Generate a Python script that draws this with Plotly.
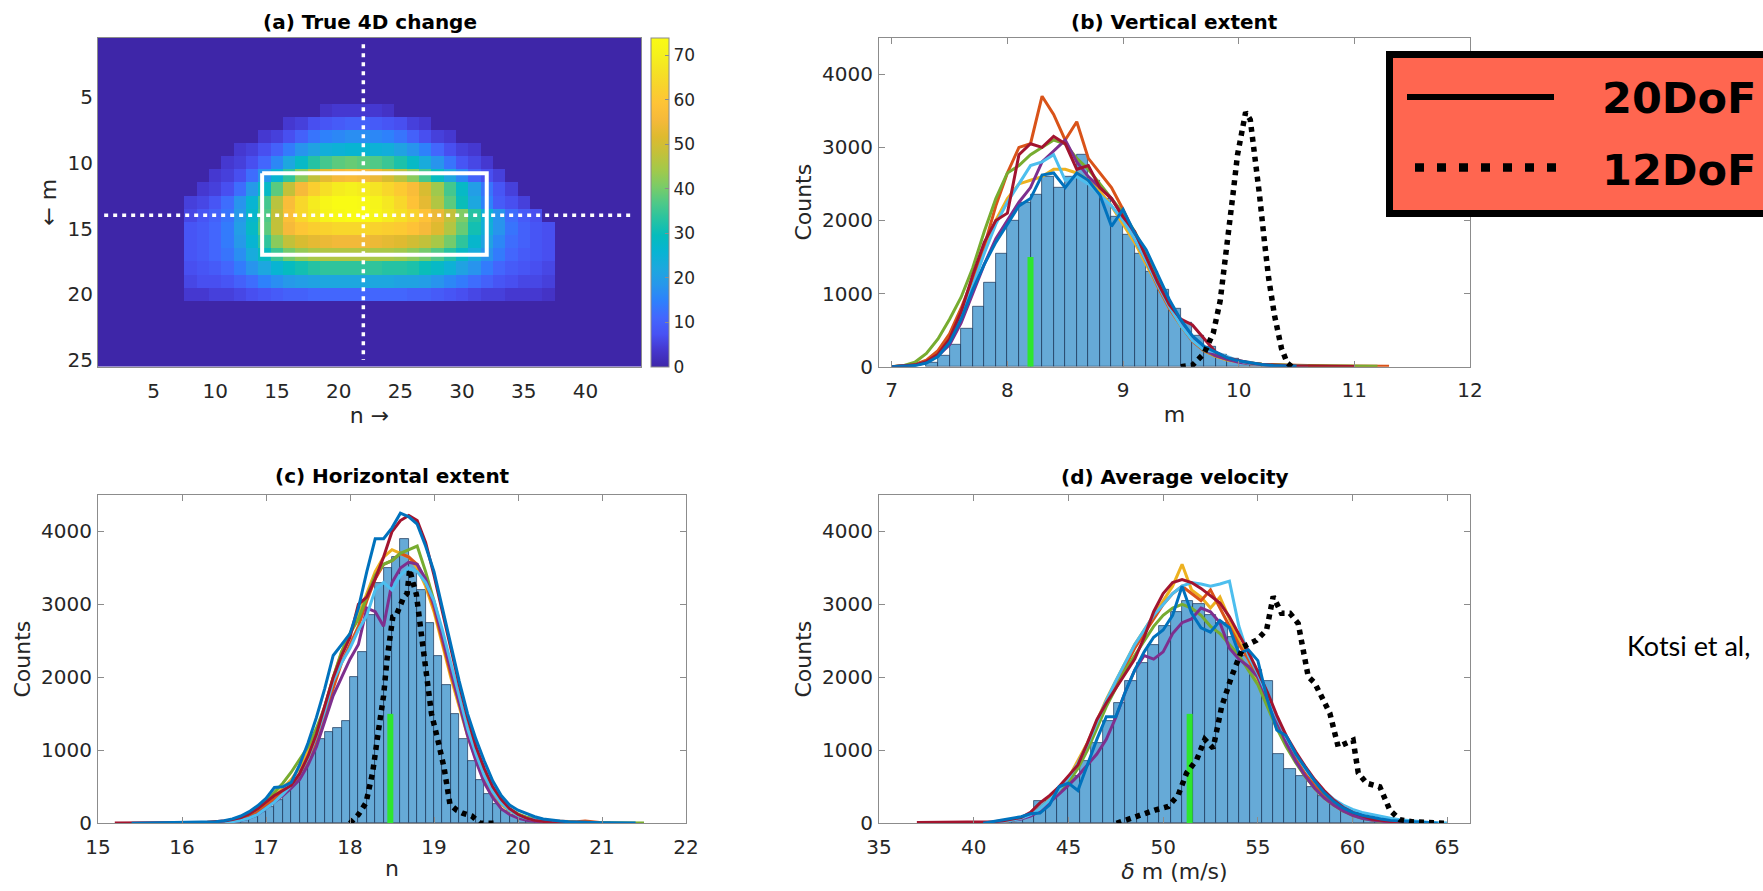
import plotly.graph_objects as go

# ------------------------------------------------------------------
# (a) True 4D change : cell values for rows m = 6..20, columns n = 8..37
# (all other cells of the 25 x 44 grid are zero)
# ------------------------------------------------------------------
m_rows = list(range(1, 26))
n_cols = list(range(1, 45))
first_col, last_col = 8, 37

r06 = [0,0,0,0,0,0,0,0,0,0,0,3,4,4,4,4,3,0,0,0,0,0,0,0,0,0,0,0,0,0]
r07 = [0,0,0,0,0,0,0,0,4,5,7,8,9,10,10,9,8,7,5,4,0,0,0,0,0,0,0,0,0,0]
r08 = [0,0,0,0,0,0,4,5,7,10,13,15,16,17,17,16,15,13,10,7,5,4,0,0,0,0,0,0,0,0]
r09 = [0,0,0,0,4,5,7,10,14,18,21,24,25,26,26,25,24,21,18,15,11,7,5,4,0,0,0,0,0,0]
r10 = [0,0,0,4,5,7,11,16,22,28,33,36,38,39,38,37,35,32,28,23,18,13,8,6,4,0,0,0,0,0]
r11 = [0,0,4,5,7,12,18,26,34,42,48,53,56,57,56,54,51,47,42,36,29,22,16,10,7,5,0,0,0,0]
r12 = [0,4,5,7,12,19,28,38,48,56,62,66,69,70,69,67,64,61,57,51,44,36,28,20,13,8,5,0,0,0]
r13 = [5,6,8,12,18,26,36,47,57,64,69,72,74,74,73,71,68,64,59,53,46,38,30,22,15,9,7,5,0,0]
r14 = [6,8,10,13,19,27,37,48,58,64,68,71,73,74,74,72,69,66,63,59,54,48,41,33,25,18,12,9,7,0]
r15 = [8,9,11,14,20,28,38,48,56,60,62,63,64,64,64,63,62,61,59,56,52,46,39,31,24,18,13,10,8,7]
r16 = [8,9,11,14,19,26,34,42,48,51,53,54,55,55,55,54,53,52,50,48,45,40,34,27,21,16,12,10,8,7]
r17 = [8,9,11,13,17,23,29,35,40,43,45,46,46,46,46,45,45,44,42,40,37,33,28,23,18,14,11,9,8,7]
r18 = [7,8,9,11,14,18,22,26,29,31,33,34,34,34,34,34,33,33,32,30,28,25,21,18,14,11,9,8,7,6]
r19 = [6,7,7,8,10,12,15,17,19,20,21,22,22,22,22,22,22,21,21,20,18,16,14,12,10,8,7,6,6,5]
r20 = [4,4,5,5,6,7,8,9,10,10,11,11,11,11,11,11,11,11,10,10,9,8,7,6,5,5,4,4,4,3]
active_rows = {6: r06, 7: r07, 8: r08, 9: r09, 10: r10, 11: r11, 12: r12, 13: r13,
               14: r14, 15: r15, 16: r16, 17: r17, 18: r18, 19: r19, 20: r20}

# region of interest and the two cross sections
roi_n = [13.8, 32.0]
roi_m = [10.8, 17.0]
cross_n = 22
cross_m = 14

# ------------------------------------------------------------------
# (b) Vertical extent
# ------------------------------------------------------------------
b_bins = [7.35,7.45,7.55,7.65,7.75,7.85,7.95,8.05,8.15,8.25,8.35,8.45,8.55,8.65,8.75,
          8.85,8.95,9.05,9.15,9.25,9.35,9.45,9.55,9.65,9.75,9.85,9.95,10.05,10.15,10.25]
b_counts = [60,150,300,520,820,1150,1550,2000,2250,2350,2600,2450,2600,2900,2550,
            2300,2050,1800,1550,1300,1050,800,600,420,280,170,110,70,40,20]
b_grid = [7.0,7.1,7.2,7.3,7.4,7.5,7.6,7.7,7.8,7.9,8.0,8.1,8.2,8.3,8.4,8.5,8.6,8.7,8.8,8.9,
          9.0,9.1,9.2,9.3,9.4,9.5,9.6,9.7,9.8,9.9,10.0,10.1,10.2,10.3,10.4,10.5,10.6,10.7,
          10.8,10.9,11.0,11.1,11.2,11.3]
N = None
b_orange = [0,10,30,90,220,450,800,1200,1650,2200,2650,3000,3050,3700,3450,3100,3350,2850,2650,2450,
            2150,1800,1450,1100,800,560,350,220,150,100,70,50,35,25,20,15,15,12,10,10,8,8,6,5]
b_yellow = [0,5,25,80,200,420,750,1150,1600,2000,2300,2500,2550,2600,2700,2700,2650,2550,2400,2200,
            1950,1700,1400,1100,800,560,360,220,140,90,60,40,25,15,10,8,N,N,N,N,N,N,N,N]
b_green = [0,15,60,180,380,650,950,1350,1850,2300,2650,2750,2900,3000,3100,3050,2850,2700,2500,2300,
           2100,1850,1550,1200,850,580,370,230,150,100,70,50,35,25,20,15,12,10,10,8,8,6,5,N]
b_purple = [0,5,20,60,150,300,600,1000,1400,1750,2000,2250,2450,2800,2950,3100,2800,2600,2450,2300,
            2050,1750,1450,1150,850,580,380,240,150,100,60,40,25,15,10,N,N,N,N,N,N,N,N,N]
b_lightblue = [0,5,20,60,160,350,680,1100,1550,1950,2250,2500,2750,2800,2900,2550,2600,2500,2350,2200,
               2000,1750,1450,1120,820,560,360,230,200,140,80,45,25,15,10,8,5,N,N,N,N,N,N,N]
b_darkred = [0,8,25,70,170,380,750,1250,1700,2000,2100,2900,3050,3000,3150,3050,2700,2750,2450,2300,
             2050,1850,1500,1150,850,650,570,380,200,120,80,50,30,20,12,10,8,8,6,5,4,N,N,N]
b_blue = [0,5,15,50,140,330,650,1050,1400,1700,1950,2200,2300,2620,2650,2450,2650,2550,2350,1920,
          2150,1830,1600,1250,920,640,420,280,200,120,80,50,30,15,8,5,N,N,N,N,N,N,N,N]
b_12dof_x = [9.50,9.60,9.70,9.78,9.84,9.88,9.92,9.95,9.99,10.03,10.06,10.10,10.14,10.18,10.22,
             10.26,10.31,10.37,10.42,10.46]
b_12dof_y = [0,20,180,460,900,1400,1850,2350,2900,3300,3480,3380,2900,2350,1750,1200,700,250,50,0]
b_true = 8.2

# ------------------------------------------------------------------
# (c) Horizontal extent
# ------------------------------------------------------------------
c_bins = [16.65,16.75,16.85,16.95,17.05,17.15,17.25,17.35,17.45,17.55,17.65,17.75,17.85,17.95,
          18.05,18.15,18.25,18.35,18.45,18.55,18.65,18.75,18.85,18.95,19.05,19.15,19.25,19.35,
          19.45,19.55,19.65,19.75,19.85,19.95,20.05,20.15,20.25]
c_counts = [30,50,90,150,220,320,450,600,780,1000,1150,1250,1300,1400,2000,2350,2850,3300,3500,3650,
            3900,3550,3200,2750,2300,1900,1500,1150,850,600,400,270,170,110,65,35,15]
c_grid = [15.2,15.3,15.4,15.5,15.6,15.7,15.8,15.9,16.0,16.1,16.2,16.3,16.4,16.5,16.6,16.7,16.8,16.9,
          17.0,17.1,17.2,17.3,17.4,17.5,17.6,17.7,17.8,17.9,18.0,18.1,18.2,18.3,18.4,18.5,18.6,18.7,
          18.8,18.9,19.0,19.1,19.2,19.3,19.4,19.5,19.6,19.7,19.8,19.9,20.0,20.1,20.2,20.3,20.4,20.5,
          20.6,20.7,20.8,20.9,21.0,21.1,21.2,21.3,21.4,21.5]
c_orange = [N,N,N,N,N,N,N,N,N,N,N,N,5,10,25,50,90,150,240,330,420,520,650,850,1100,1450,1850,2200,
            2450,2700,3050,3350,3550,3600,3700,3650,3550,3300,2950,2500,2050,1650,1250,900,620,420,
            280,180,120,80,55,40,30,25,20,20,30,15,8,5,N,N,N,N]
c_yellow = [N,N,N,N,N,N,N,N,N,N,N,5,10,20,40,70,120,190,280,380,480,600,760,980,1250,1600,2000,2350,
            2600,2850,3150,3450,3650,3750,3700,3650,3500,3250,2900,2450,2000,1600,1200,880,600,400,
            260,170,110,70,45,30,20,12,8,5,N,N,N,N,N,N,N,N]
c_green = [N,N,N,N,N,N,N,N,N,N,5,10,15,25,45,80,130,200,300,420,550,700,880,1050,1300,1600,2000,2350,
           2600,2800,3100,3400,3550,3600,3700,3750,3800,3450,3050,2600,2150,1700,1300,950,670,460,
           310,200,130,85,55,35,25,18,12,10,8,6,5,5,4,4,4,4]
c_purple = [N,N,N,N,N,N,N,N,N,N,N,N,5,10,20,40,70,120,200,290,380,480,600,800,1050,1400,1750,2000,
            2250,2450,2950,2900,2700,3300,3500,3580,3550,3350,3000,2550,2100,1650,1200,850,550,350,
            200,120,70,40,25,15,10,5,N,N,N,N,N,N,N,N,N,N]
c_lightblue = [N,N,N,N,N,N,N,N,N,N,N,N,5,10,20,40,70,120,200,290,400,520,680,900,1200,1550,1950,2200,
               2400,2650,2850,3200,3300,3200,3400,3500,3450,3300,3050,2650,2200,1750,1300,950,650,
               430,280,180,110,70,45,30,20,15,10,8,5,5,N,N,N,N,N,N]
c_darkred = [5,5,5,4,4,5,5,6,8,10,12,15,20,30,50,80,130,200,290,380,450,520,680,920,1220,1600,2000,
             2300,2550,3000,3100,3350,3650,4000,4150,4220,4150,3850,3400,2900,2400,1900,1450,1050,
             750,500,330,200,120,70,40,20,10,5,2,N,N,N,N,N,N,N,N,N]
c_blue = [N,N,0,2,4,5,6,8,10,10,12,15,22,35,60,100,160,240,340,490,500,560,800,1100,1450,1850,2300,
          2450,2600,2950,3450,3900,3900,4050,4250,4200,4100,3800,3450,2950,2450,1950,1500,1150,850,
          580,380,250,180,130,90,60,40,30,20,15,10,10,8,6,5,4,3,N]
c_12dof_x = [18.00,18.10,18.19,18.27,18.34,18.40,18.44,18.48,18.51,18.55,18.59,18.64,18.68,18.71,
             18.75,18.79,18.83,18.87,18.92,18.97,19.04,19.12,19.19,19.27,19.34,19.45,19.55,19.62,19.72]
c_12dof_y = [0,120,280,700,1280,1750,2240,2550,2830,2850,2970,3100,3150,3480,3300,3140,2770,2400,
             1860,1500,1170,760,260,180,140,100,0,0,0]
c_true = 18.48

# ------------------------------------------------------------------
# (d) Average velocity
# ------------------------------------------------------------------
d_bins = [41.7,42.3,42.9,43.5,44.1,44.7,45.3,45.9,46.5,47.1,47.7,48.3,48.9,49.5,50.1,50.7,51.3,51.9,
          52.5,53.1,53.7,54.3,54.9,55.5,56.1,56.7,57.3,57.9,58.5,59.1,59.7,60.3,60.9,61.5,62.1,62.7]
d_counts = [20,50,100,300,330,480,650,850,1100,1400,1650,1950,2200,2450,2700,2900,3050,3000,2850,2750,
            2550,2300,2100,1950,950,750,650,500,380,280,200,140,90,60,30,15]
d_grid = [37.0,37.5,38.0,38.5,39.0,39.5,40.0,40.5,41.0,41.5,42.0,42.5,43.0,43.5,44.0,44.5,45.0,45.5,
          46.0,46.5,47.0,47.5,48.0,48.5,49.0,49.5,50.0,50.5,51.0,51.5,52.0,52.5,53.0,53.5,54.0,54.5,
          55.0,55.5,56.0,56.5,57.0,57.5,58.0,58.5,59.0,59.5,60.0,60.5,61.0,61.5,62.0,62.5,63.0,63.5,
          64.0,64.5,65.0]
d_orange = [N,N,N,N,N,N,N,N,10,20,40,70,120,200,320,450,600,800,1050,1350,1650,1900,2150,2400,2600,
            2800,3000,3150,3250,3150,3050,3200,2950,2700,2450,2250,2000,1700,1380,1100,880,680,520,
            380,270,190,130,90,60,40,25,15,8,N,N,N,N]
d_yellow = [N,N,N,N,N,N,N,N,10,20,40,70,120,200,330,470,620,850,1100,1400,1700,1950,2200,2450,2650,
            2850,3050,3250,3550,3200,3100,2950,3100,2800,2500,2250,1950,1650,1350,1080,850,650,480,
            350,250,170,120,80,50,30,20,10,5,N,N,N,N]
d_green = [N,N,N,N,N,N,N,N,10,20,40,70,110,180,300,420,560,750,1000,1300,1600,1850,2100,2300,2500,
           2700,2850,2950,3000,2950,2850,2700,2600,2450,2300,2100,1900,1600,1300,1050,830,640,480,
           350,250,170,110,70,45,25,15,8,5,N,N,N,N]
d_purple = [N,N,N,N,N,N,N,N,10,20,40,60,100,170,280,400,520,650,800,950,1150,1450,1800,2100,2300,
            2250,2350,2600,2750,2800,2950,2900,2750,2400,2250,2150,2000,1700,1380,1100,850,650,480,
            350,250,170,110,70,45,25,15,8,5,N,N,N,N]
d_lightblue = [N,N,N,N,N,N,N,N,10,20,40,70,120,200,320,460,620,820,1080,1380,1680,1950,2200,2450,
               2650,2850,3000,3150,3250,3300,3280,3250,3280,3320,2700,2300,2050,1750,1450,1180,950,
               750,580,440,330,250,190,150,120,90,70,50,35,25,15,8,3]
d_darkred = [10,10,10,10,15,15,20,15,20,30,50,80,150,280,380,500,650,800,1100,1420,1650,1850,2050,
             2250,2550,2900,3150,3300,3340,3300,3220,3120,3020,2830,2600,2350,2080,1800,1480,1200,
             980,780,600,450,320,220,150,100,60,40,20,10,5,N,N,N,N]
d_blue = [N,N,N,N,N,N,N,0,20,40,60,90,130,140,250,500,550,450,800,1150,1460,1460,1800,2100,2350,
          2550,2650,2850,3250,2880,2680,2620,2780,2680,2330,2380,2230,1700,1280,1200,950,760,580,420,
          300,210,150,110,80,60,40,30,20,10,5,0,N]
d_12dof_x = [47.54,48.33,48.95,49.56,50.27,50.80,51.24,51.77,52.20,52.64,53.09,53.61,54.23,54.93,
             55.46,55.81,56.25,56.69,57.13,57.40,57.66,58.01,58.37,58.80,59.24,59.68,60.03,60.30,
             60.74,61.44,61.97,62.50,63.20,64.00,65.00]
d_12dof_y = [0,70,140,180,230,390,690,870,1150,1030,1600,2010,2420,2510,2650,3110,2880,2880,2740,
             2330,2010,1920,1740,1510,1050,1100,1140,690,550,500,180,50,20,10,0]
d_true = 51.4

# ------------------------------------------------------------------
# styling
# ------------------------------------------------------------------
W, H = 1763, 891
FONT = "DejaVu Sans"
TXT = "#262626"
FRAME = "#8c8c8c"
run_colors = {"yellow": "#EDB120", "orange": "#D95319", "green": "#77AC30", "purple": "#7E2F8E",
              "lightblue": "#4DBEEE", "darkred": "#A2142F", "blue": "#0072BD"}
bar_face = "#66AAD7"
bar_edge = "rgba(20,45,80,0.85)"
true_color = "#2EE62E"

parula = [
    [0.00, "#3E26A8"], [0.05, "#4536CD"], [0.10, "#4852F4"], [0.15, "#4367FD"],
    [0.20, "#2E80FC"], [0.25, "#2797EB"], [0.30, "#1CA8DE"], [0.35, "#08B4D3"],
    [0.40, "#06BCBC"], [0.45, "#28C3A1"], [0.50, "#4FC987"], [0.55, "#7CCC66"],
    [0.60, "#A3C94A"], [0.65, "#C3C13A"], [0.70, "#DEBA2F"], [0.75, "#F5B93A"],
    [0.80, "#FEC337"], [0.85, "#F9D22D"], [0.90, "#F5E225"], [0.95, "#F5F21C"],
    [1.00, "#F9FB14"],
]


def px(x):
    return x / W


def py(y):
    return 1 - y / H


# full matrix for the image
z_full = []
for m in m_rows:
    row = [0] * len(n_cols)
    if m in active_rows:
        vals = active_rows[m]
        for k, v in enumerate(vals):
            row[first_col - 1 + k] = v
    z_full.append(row)

fig = go.Figure()

fig.add_trace(go.Heatmap(
    z=z_full, x=n_cols, y=m_rows, colorscale=parula, zmin=0, zmax=74,
    xaxis="x", yaxis="y", showscale=True,
    colorbar=dict(
        x=px(651), xanchor="left", xpad=0, y=py(366.7), yanchor="bottom", ypad=0,
        len=(366.7 - 37.7) / H, lenmode="fraction", thickness=18, thicknessmode="pixels",
        outlinecolor=FRAME, outlinewidth=1, ticks="inside", ticklen=4, tickcolor=FRAME,
        tickvals=[0, 10, 20, 30, 40, 50, 60, 70],
        tickfont=dict(family=FONT, size=17, color=TXT)),
))

# region box and cross-section lines
fig.add_trace(go.Scatter(
    x=[roi_n[0], roi_n[1], roi_n[1], roi_n[0], roi_n[0]],
    y=[roi_m[0], roi_m[0], roi_m[1], roi_m[1], roi_m[0]],
    mode="lines", line=dict(color="white", width=4), xaxis="x", yaxis="y", showlegend=False))
fig.add_trace(go.Scatter(
    x=[cross_n, cross_n], y=[1, 25], mode="lines",
    line=dict(color="white", width=3.5, dash="4px,5px"), xaxis="x", yaxis="y", showlegend=False))
fig.add_trace(go.Scatter(
    x=[1, 44], y=[cross_m, cross_m], mode="lines",
    line=dict(color="white", width=3.5, dash="4px,5px"), xaxis="x", yaxis="y", showlegend=False))


def add_hist_panel(xa, ya, bins, counts, width, grid, runs, dof_x, dof_y, true_val):
    fig.add_trace(go.Bar(
        x=bins, y=counts, width=width, xaxis=xa, yaxis=ya, showlegend=False,
        marker=dict(color=bar_face, line=dict(color=bar_edge, width=0.8))))
    for name, vals in runs:
        fig.add_trace(go.Scatter(
            x=grid, y=vals, mode="lines", xaxis=xa, yaxis=ya, showlegend=False,
            line=dict(color=run_colors[name], width=3), connectgaps=False))
    fig.add_trace(go.Scatter(
        x=[true_val, true_val], y=[0, 1500], mode="lines", xaxis=xa, yaxis=ya,
        showlegend=False, line=dict(color=true_color, width=6)))
    fig.add_trace(go.Scatter(
        x=dof_x, y=dof_y, mode="lines", xaxis=xa, yaxis=ya, showlegend=False,
        line=dict(color="black", width=5.5, dash="5px,5px")))


add_hist_panel("x2", "y2", b_bins, b_counts, 0.1, b_grid,
               [("yellow", b_yellow), ("orange", b_orange), ("green", b_green),
                ("purple", b_purple), ("lightblue", b_lightblue), ("darkred", b_darkred),
                ("blue", b_blue)],
               b_12dof_x, b_12dof_y, b_true)
add_hist_panel("x3", "y3", c_bins, c_counts, 0.1, c_grid,
               [("yellow", c_yellow), ("orange", c_orange), ("green", c_green),
                ("purple", c_purple), ("lightblue", c_lightblue), ("darkred", c_darkred),
                ("blue", c_blue)],
               c_12dof_x, c_12dof_y, c_true)
add_hist_panel("x4", "y4", d_bins, d_counts, 0.6, d_grid,
               [("yellow", d_yellow), ("orange", d_orange), ("green", d_green),
                ("purple", d_purple), ("lightblue", d_lightblue), ("darkred", d_darkred),
                ("blue", d_blue)],
               d_12dof_x, d_12dof_y, d_true)

tickfont = dict(family=FONT, size=20, color=TXT)
titlefont = dict(family=FONT, size=22, color=TXT)


def frame_axis(domain, rng, tickvals, title, anchor, standoff, ticks="inside",
               labelgap=0, **kw):
    return dict(domain=domain, range=rng, tickvals=tickvals, anchor=anchor,
                showline=True, mirror="ticks", linecolor=FRAME, linewidth=1,
                ticks=ticks, ticklen=6, tickcolor=FRAME, tickwidth=1,
                showgrid=False, zeroline=False, tickfont=tickfont,
                ticklabelstandoff=labelgap,
                title=dict(text=title, font=titlefont, standoff=standoff),
                automargin=False, fixedrange=True, **kw)


top_y = [py(366.7), py(37.7)]
bot_y = [py(823.3), py(495)]
left_x = [px(98), px(641)]
left_x_c = [px(98), px(686)]
right_x = [px(879), px(1470)]

fig.update_layout(
    width=W, height=H, margin=dict(l=0, r=0, t=0, b=0),
    paper_bgcolor="white", plot_bgcolor="white", template="none",
    barmode="overlay", bargap=0, showlegend=False,
    xaxis=frame_axis(left_x, [0.5, 44.5], [5, 10, 15, 20, 25, 30, 35, 40], "n →", "y", 5,
                     ticks="", labelgap=6),
    yaxis=frame_axis(top_y, [25.5, 0.5], [5, 10, 15, 20, 25], "← m", "x", 4, ticks=""),
    xaxis2=frame_axis(right_x, [6.89, 12], [7, 8, 9, 10, 11, 12], "m", "y2", 5, labelgap=5),
    yaxis2=frame_axis(top_y, [0, 4500], [0, 1000, 2000, 3000, 4000], "Counts", "x2", 4,
                      labelgap=1),
    xaxis3=frame_axis(left_x_c, [15, 22], [15, 16, 17, 18, 19, 20, 21, 22], "n", "y3", 2,
                      labelgap=6),
    yaxis3=frame_axis(bot_y, [0, 4500], [0, 1000, 2000, 3000, 4000], "Counts", "x3", 4,
                      labelgap=1),
    xaxis4=frame_axis(right_x, [35, 66.2], [35, 40, 45, 50, 55, 60, 65], "<i>δ</i> m (m/s)",
                      "y4", 2, labelgap=6),
    yaxis4=frame_axis(bot_y, [0, 4500], [0, 1000, 2000, 3000, 4000], "Counts", "x4", 4,
                      labelgap=1),
)

# panel titles
titles = [("(a) True 4D change", (98 + 641) / 2, 21.7),
          ("(b) Vertical extent", (879 + 1470) / 2, 21.7),
          ("(c) Horizontal extent", (98 + 686) / 2, 476),
          ("(d) Average velocity", (879 + 1470) / 2, 477)]
for text, cx, cy in titles:
    fig.add_annotation(text=f"<b>{text}</b>", x=px(cx), y=py(cy), xref="paper", yref="paper",
                       xanchor="center", yanchor="middle", showarrow=False,
                       font=dict(family=FONT, size=20, color="black"))

# key box: 20DoF / 12DoF
fig.add_shape(type="rect", xref="paper", yref="paper",
              x0=px(1389.5), x1=px(1790), y0=py(213.5), y1=py(54.5),
              fillcolor="#FF6650", line=dict(color="black", width=7), layer="above")
fig.add_shape(type="line", xref="paper", yref="paper",
              x0=px(1407), x1=px(1554), y0=py(97), y1=py(97),
              line=dict(color="black", width=6), layer="above")
fig.add_shape(type="line", xref="paper", yref="paper",
              x0=px(1415), x1=px(1560), y0=py(167.5), y1=py(167.5),
              line=dict(color="black", width=8.5, dash="9px,13px"), layer="above")
for label, cy in [("20DoF", 98), ("12DoF", 170)]:
    fig.add_annotation(text=f"<b>{label}</b>", x=px(1600), y=py(cy), xref="paper", yref="paper",
                       xanchor="left", yanchor="middle", showarrow=False,
                       font=dict(family=FONT, size=43, color="black"))

fig.add_annotation(text="Kotsi et al,", x=px(1625), y=py(645), xref="paper", yref="paper",
                   xanchor="left", yanchor="middle", showarrow=False,
                   font=dict(family="Lato", size=27, color="black"))

fig.write_html("out.html")
